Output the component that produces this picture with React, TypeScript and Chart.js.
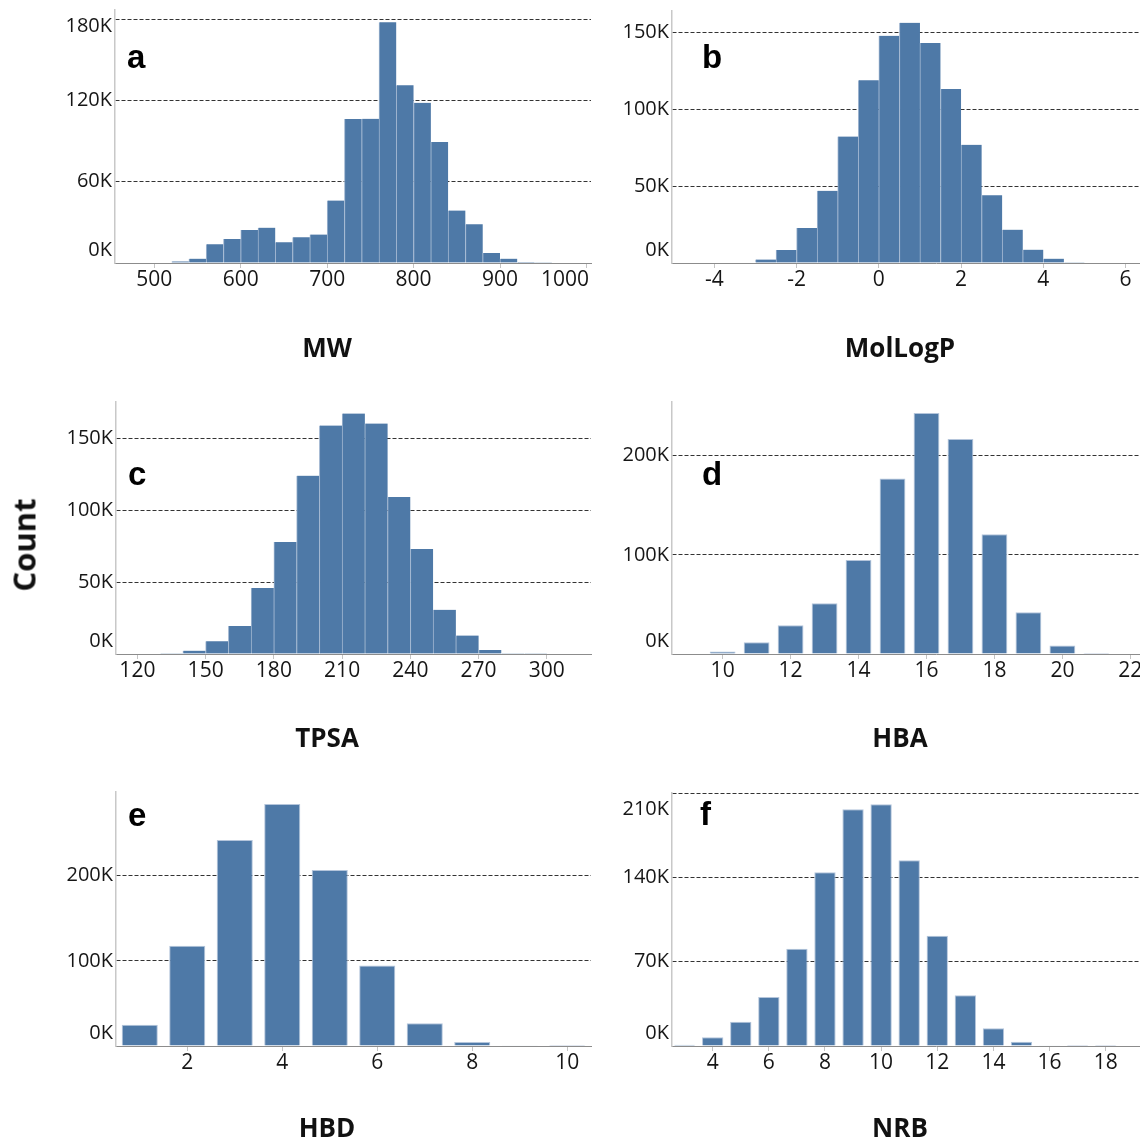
import React, { useEffect, useRef } from 'react';
import { Chart, registerables } from 'chart.js';

Chart.register(...registerables);

// ---------------- data ----------------
// a: MW (bin width 20, bin centres)
const mwBins = [530, 550, 570, 590, 610, 630, 650, 670, 690, 710, 730, 750, 770, 790, 810, 830, 850, 870, 890, 910, 930, 950];
const mwCounts = [1200, 3200, 13800, 17800, 24400, 26100, 15300, 19000, 21000, 46100, 106300, 106500, 177800, 131400, 118300, 89300, 38700, 28600, 7400, 3200, 700, 200];
const mwXTicks = [500, 600, 700, 800, 900, 1000];
const mwYTicks = [0, 60000, 120000, 180000];

// b: MolLogP (bin width 0.5, bin centres)
const logpBins = [-3.25, -2.75, -2.25, -1.75, -1.25, -0.75, -0.25, 0.25, 0.75, 1.25, 1.75, 2.25, 2.75, 3.25, 3.75, 4.25, 4.75];
const logpCounts = [300, 2200, 8500, 22800, 47000, 82400, 119100, 148000, 156500, 143300, 113300, 77000, 44100, 21700, 8700, 2800, 500];
const logpXTicks = [-4, -2, 0, 2, 4, 6];
const logpYTicks = [0, 50000, 100000, 150000];

// c: TPSA (bin width 10, bin centres)
const tpsaBins = [135, 145, 155, 165, 175, 185, 195, 205, 215, 225, 235, 245, 255, 265, 275, 285, 295];
const tpsaCounts = [500, 2300, 8800, 19500, 45800, 77900, 124000, 158800, 167200, 160200, 109100, 73000, 30700, 12800, 2800, 500, 100];
const tpsaXTicks = [120, 150, 180, 210, 240, 270, 300];
const tpsaYTicks = [0, 50000, 100000, 150000];

// d: HBA
const hbaBins = [10, 11, 12, 13, 14, 15, 16, 17, 18, 19, 20, 21];
const hbaCounts = [2400, 11800, 28900, 51100, 94800, 177100, 243000, 216800, 120700, 42000, 8700, 1000];
const hbaXTicks = [10, 12, 14, 16, 18, 20, 22];
const hbaYTicks = [0, 100000, 200000];

// e: HBD
const hbdBins = [1, 2, 3, 4, 5, 6, 7, 8, 9, 10];
const hbdCounts = [25100, 117600, 242000, 284300, 206700, 94500, 26700, 4700, 300, 50];
const hbdXTicks = [2, 4, 6, 8, 10];
const hbdYTicks = [0, 100000, 200000];

// f: NRB
const nrbBins = [3, 4, 5, 6, 7, 8, 9, 10, 11, 12, 13, 14, 15, 16, 17, 18];
const nrbCounts = [1100, 7200, 20200, 40700, 80800, 144200, 196500, 200600, 154100, 91600, 42100, 14700, 3600, 600, 100, 50];
const nrbXTicks = [4, 6, 8, 10, 12, 14, 16, 18];
const nrbYTicks = [0, 70000, 140000, 210000];

// ---------------- styling / layout ----------------
const BAR_COLOR = '#4e79a7';
const TITLE_BOX = 26 * 1.2 + 24.4;

type Spec = {
  letter: string;
  title: string;
  bins: number[];
  counts: number[];
  xMin: number;
  xMax: number;
  xTicks: number[];
  yMax: number;
  yTicks: number[];
  histogram: boolean;
  left: number;
  top: number;
  width: number;
  height: number;
  padLeft: number;
  padRight: number;
  padTop: number;
  yAxisW: number;
  areaBottom: number;
  letterDx: number;
  letterDy: number;
};

const specs: Spec[] = [
  { letter: 'a', title: 'MW', bins: mwBins, counts: mwCounts, xMin: 454.5, xMax: 1005.3, xTicks: mwXTicks, yMax: 186900, yTicks: mwYTicks, histogram: true,
    left: 0, top: 0, width: 600, height: 390, padLeft: 63, padRight: 9, padTop: 10, yAxisW: 52, areaBottom: 263, letterDx: 12, letterDy: 58 },
  { letter: 'b', title: 'MolLogP', bins: logpBins, counts: logpCounts, xMin: -5.03, xMax: 7.81, xTicks: logpXTicks, yMax: 164200, yTicks: logpYTicks, histogram: true,
    left: 600, top: 0, width: 600, height: 390, padLeft: 0, padRight: 0, padTop: 11, yAxisW: 72, areaBottom: 263, letterDx: 30, letterDy: 57 },
  { letter: 'c', title: 'TPSA', bins: tpsaBins, counts: tpsaCounts, xMin: 110.6, xMax: 319.4, xTicks: tpsaXTicks, yMax: 175200, yTicks: tpsaYTicks, histogram: true,
    left: 0, top: 390, width: 600, height: 390, padLeft: 63, padRight: 9, padTop: 12, yAxisW: 53, areaBottom: 264, letterDx: 12, letterDy: 83 },
  { letter: 'd', title: 'HBA', bins: hbaBins, counts: hbaCounts, xMin: 8.51, xMax: 24.05, xTicks: hbaXTicks, yMax: 254200, yTicks: hbaYTicks, histogram: false,
    left: 600, top: 390, width: 600, height: 390, padLeft: 0, padRight: 0, padTop: 12, yAxisW: 72, areaBottom: 264, letterDx: 30, letterDy: 83 },
  { letter: 'e', title: 'HBD', bins: hbdBins, counts: hbdCounts, xMin: 0.5, xMax: 10.5, xTicks: hbdXTicks, yMax: 298300, yTicks: hbdYTicks, histogram: false,
    left: 0, top: 780, width: 600, height: 390, padLeft: 63, padRight: 9, padTop: 12, yAxisW: 53, areaBottom: 266, letterDx: 12, letterDy: 34 },
  { letter: 'f', title: 'NRB', bins: nrbBins, counts: nrbCounts, xMin: 2.55, xMax: 21.36, xTicks: nrbXTicks, yMax: 210000, yTicks: nrbYTicks, histogram: false,
    left: 600, top: 780, width: 600, height: 390, padLeft: 0, padRight: 0, padTop: 13, yAxisW: 72, areaBottom: 266, letterDx: 28, letterDy: 32 },
];

const fmtK = (v: number) => `${Math.round(v / 1000)}K`;

function makeTextPlugin(spec: Spec) {
  return {
    id: 'panelText_' + spec.letter,
    afterDraw(chart: any) {
      const { ctx, chartArea } = chart;
      const { left, right, top, bottom } = chartArea;
      const xs = chart.scales.x;
      const ys = chart.scales.y;
      ctx.save();
      ctx.fillStyle = '#161616';
      ctx.font = '20px "Open Sans"';
      ctx.textAlign = 'right';
      ctx.textBaseline = 'middle';
      ys.ticks.forEach((t: any) => {
        const p = ys.getPixelForValue(t.value);
        const y = Math.min(Math.max(p, top + 16), bottom - 13);
        ctx.fillText(fmtK(t.value), left - 3, y);
      });
      ctx.font = '21px "Open Sans"';
      ctx.textAlign = 'center';
      xs.ticks.forEach((t: any) => {
        const label = String(t.value);
        const w = ctx.measureText(label).width;
        let x = xs.getPixelForValue(t.value);
        x = Math.min(x, right - 2 - w / 2);
        ctx.fillText(label, x, bottom + 17);
      });
      ctx.fillStyle = '#000';
      ctx.font = 'bold 33px "Liberation Sans"';
      ctx.textAlign = 'left';
      ctx.textBaseline = 'alphabetic';
      ctx.fillText(spec.letter, left + spec.letterDx, top + spec.letterDy);
      ctx.restore();
    },
  };
}

function Panel({ spec }: { spec: Spec }) {
  const ref = useRef<HTMLCanvasElement | null>(null);
  useEffect(() => {
    if (!ref.current) return;
    const xAxisH = spec.height - spec.areaBottom - TITLE_BOX;
    const chart = new Chart(ref.current, {
      type: 'bar',
      data: {
        datasets: [
          {
            data: spec.bins.map((b, i) => ({ x: b, y: spec.counts[i] })),
            backgroundColor: BAR_COLOR,
            borderColor: spec.histogram ? '#9fb5d0' : '#b4c5db',
            borderWidth: spec.histogram ? { left: 1, right: 0, top: 0, bottom: 0 } : 1,
            borderSkipped: 'start',
            barPercentage: spec.histogram ? 1 : 0.76,
            categoryPercentage: 1,
          } as any,
        ],
      },
      options: {
        animation: false,
        responsive: false,
        maintainAspectRatio: false,
        devicePixelRatio: 1,
        layout: { padding: { left: spec.padLeft, right: spec.padRight, top: spec.padTop, bottom: 0 } },
        plugins: {
          legend: { display: false },
          tooltip: { enabled: false },
          title: {
            display: true,
            text: spec.title,
            position: 'bottom',
            color: '#111',
            font: { family: '"Open Sans"', size: 26, weight: 'bold' },
            padding: { top: 0, bottom: 24.4 },
          },
        },
        scales: {
          x: {
            type: 'linear',
            min: spec.xMin,
            max: spec.xMax,
            offset: false,
            afterBuildTicks: (scale: any) => {
              scale.ticks = spec.xTicks.map((v) => ({ value: v }));
            },
            afterFit: (scale: any) => {
              scale.height = xAxisH;
            },
            ticks: { display: false },
            grid: { display: true, offset: false, drawOnChartArea: false, drawTicks: true, tickLength: 5, color: '#c4c4c4' },
            border: { display: true, color: '#8c8c8c', width: 1 },
          },
          y: {
            type: 'linear',
            min: 0,
            max: spec.yMax,
            afterBuildTicks: (scale: any) => {
              scale.ticks = spec.yTicks.map((v) => ({ value: v }));
            },
            afterFit: (scale: any) => {
              scale.width = spec.yAxisW;
            },
            ticks: { display: false },
            grid: {
              display: true,
              drawTicks: false,
              lineWidth: 1,
              color: (ctx: any) => (ctx.tick && ctx.tick.value === 0 ? 'rgba(0,0,0,0)' : '#333333'),
            },
            border: { display: true, color: '#c8c8c8', width: 1.5, dash: [4, 2] },
          },
        } as any,
      },
      plugins: [makeTextPlugin(spec)],
    });
    return () => chart.destroy();
  }, [spec]);
  return (
    <canvas
      ref={ref}
      width={spec.width}
      height={spec.height}
      style={{ position: 'absolute', left: spec.left, top: spec.top, width: spec.width, height: spec.height }}
    />
  );
}

export default function App() {
  return (
    <div
      style={{
        position: 'absolute',
        left: 0,
        top: 0,
        width: 1140,
        height: 1139,
        overflow: 'hidden',
        background: '#ffffff',
      }}
    >
      {specs.map((s) => (
        <Panel key={s.letter} spec={s} />
      ))}
      <div
        style={{
          position: 'absolute',
          left: 24,
          top: 545,
          transform: 'translate(-50%, -50%) rotate(-90deg)',
          font: 'bold 31px "Open Sans"',
          color: '#111',
          whiteSpace: 'nowrap',
          lineHeight: 1,
        }}
      >
        Count
      </div>
    </div>
  );
}
